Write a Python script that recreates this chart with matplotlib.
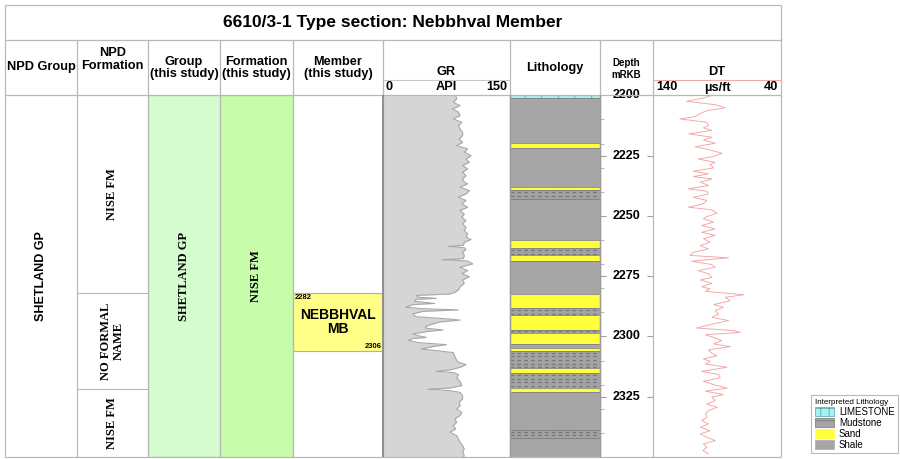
import matplotlib
matplotlib.use("Agg")
import matplotlib.pyplot as plt
from matplotlib.patches import Patch
import numpy as np

W, H = 900, 459
plt.rcParams['font.family'] = ['Liberation Sans', 'DejaVu Sans']
plt.rcParams['hatch.linewidth'] = 0.6
SERIF = ['Liberation Serif', 'DejaVu Serif']

# ---------------- data ----------------
TITLE = "6610/3-1 Type section: Nebbhval Member"
DEPTH_TOP, DEPTH_BASE = 2200, 2350
DEPTH_TICKS = [2200, 2225, 2250, 2275, 2300, 2325]

NPD_GROUP = ["SHETLAND GP"]
NPD_GROUP_TOP = [2200]
NPD_GROUP_BASE = [2350]

NPD_FM = ["NISE FM", "NO FORMAL\nNAME", "NISE FM"]
NPD_FM_TOP = [2200, 2282, 2322]
NPD_FM_BASE = [2282, 2322, 2350]

GROUP = ["SHETLAND GP"]
GROUP_TOP = [2200]
GROUP_BASE = [2350]

FORMATION = ["NISE FM"]
FORMATION_TOP = [2200]
FORMATION_BASE = [2350]

MEMBER = ["NEBBHVAL\nMB"]
MEMBER_TOP = [2282]
MEMBER_BASE = [2306]

LITH_NAME = ["LIMESTONE", "Shale", "Sand", "Shale", "Sand", "Mudstone", "Shale",
             "Sand", "Mudstone", "Sand", "Shale", "Sand", "Mudstone", "Sand",
             "Mudstone", "Sand", "Shale", "Sand", "Mudstone", "Sand", "Mudstone",
             "Sand", "Shale", "Mudstone", "Shale"]
LITH_TOP = [2200.0, 2201.2, 2219.6, 2221.7, 2238.2, 2239.4, 2243.0,
            2260.0, 2263.5, 2266.2, 2268.6, 2282.4, 2288.4, 2291.0,
            2297.2, 2298.4, 2303.1, 2305.0, 2306.1, 2313.2, 2315.3,
            2321.5, 2323.0, 2338.8, 2342.2]
LITH_BASE = [2201.2, 2219.6, 2221.7, 2238.2, 2239.4, 2243.0, 2260.0,
             2263.5, 2266.2, 2268.6, 2282.4, 2288.4, 2291.0, 2297.2,
             2298.4, 2303.1, 2305.0, 2306.1, 2313.2, 2315.3, 2321.5,
             2323.0, 2338.8, 2342.2, 2350.0]

GR_DEPTH = [2200.1, 2201.5, 2202.9, 2204.3, 2205.7, 2207.0, 2208.4, 2209.8, 2211.2,
            2212.6, 2213.9, 2215.3, 2216.7, 2218.1, 2219.5, 2220.9, 2222.2, 2223.6,
            2225.0, 2226.4, 2227.8, 2229.1, 2230.5, 2231.9, 2233.3, 2234.7, 2236.0,
            2236.7, 2238.1, 2239.5, 2240.9, 2242.3, 2243.6, 2245.0, 2246.4, 2247.8,
            2249.2, 2250.6, 2251.9, 2253.3, 2254.7, 2256.1, 2257.5, 2258.8, 2259.8,
            2260.9, 2262.2, 2262.7, 2263.2, 2263.9, 2265.1, 2266.4, 2267.7, 2268.2,
            2268.7, 2269.9, 2271.3, 2272.7, 2274.0, 2275.2, 2276.6, 2278.0, 2279.4,
            2280.7, 2281.7, 2282.4, 2283.0, 2283.8, 2284.2, 2284.6, 2285.4, 2286.3,
            2286.8, 2287.9, 2288.5, 2289.0, 2289.6, 2290.7, 2291.8, 2292.6, 2293.2,
            2294.0, 2294.8, 2295.9, 2296.6, 2297.3, 2297.9, 2299.0, 2299.8, 2300.4,
            2300.9, 2301.7, 2302.6, 2303.4, 2304.2, 2305.2, 2305.9, 2306.7, 2308.4,
            2309.8, 2310.7, 2311.7, 2312.8, 2313.9, 2314.5, 2315.0, 2315.8, 2317.2,
            2318.6, 2320.4, 2321.4, 2321.9, 2322.5, 2323.2, 2324.5, 2325.9, 2327.3,
            2328.7, 2330.1, 2331.5, 2332.8, 2334.2, 2335.6, 2337.0, 2338.4, 2339.7,
            2341.1, 2342.5, 2343.9, 2345.3, 2346.6, 2348.0, 2349.4, 2350.0]
GR_VALUE = [86, 87, 83, 91, 82, 89, 91, 83, 93,
            89, 91, 94, 94, 90, 94, 87, 100, 96,
            104, 98, 102, 94, 100, 94, 98, 94, 96,
            100, 91, 102, 98, 89, 98, 93, 100, 91,
            96, 93, 98, 94, 98, 96, 100, 98, 104,
            96, 95, 77, 96, 98, 94, 96, 95, 70,
            100, 106, 91, 100, 93, 102, 94, 96, 91,
            89, 85, 79, 39, 43, 63, 39, 37, 61,
            35, 27, 47, 89, 47, 35, 39, 71, 91,
            67, 59, 50, 51, 71, 53, 35, 43, 51,
            35, 30, 43, 75, 59, 45, 63, 83, 85,
            87, 89, 98, 91, 79, 63, 83, 89, 87,
            91, 93, 79, 53, 79, 91, 94, 94, 90,
            91, 87, 93, 91, 85, 87, 83, 86, 79,
            87, 89, 91, 94, 96, 94, 96, 95]

DT_DEPTH = [2200.1, 2201.1, 2202.5, 2203.9, 2205.2, 2206.4, 2207.5, 2208.8, 2209.8,
            2211.2, 2212.6, 2213.5, 2214.6, 2216.0, 2217.4, 2218.5, 2219.9, 2221.3,
            2222.7, 2224.0, 2225.4, 2226.4, 2227.8, 2228.7, 2230.1, 2231.5, 2232.6,
            2233.7, 2234.7, 2236.0, 2237.4, 2238.8, 2239.8, 2240.9, 2242.3, 2243.6,
            2245.0, 2246.4, 2247.5, 2248.9, 2250.3, 2251.2, 2252.6, 2254.0, 2255.4,
            2256.8, 2258.1, 2259.5, 2260.9, 2262.3, 2263.7, 2265.1, 2266.4, 2267.4,
            2268.8, 2270.2, 2271.3, 2272.7, 2274.0, 2275.5, 2276.6, 2278.0, 2279.4,
            2280.3, 2281.3, 2282.7, 2283.8, 2285.2, 2286.8, 2287.9, 2289.3, 2290.7,
            2292.1, 2293.4, 2295.1, 2296.5, 2297.6, 2298.3, 2299.3, 2300.4, 2301.7,
            2303.1, 2304.2, 2305.6, 2307.0, 2308.0, 2309.3, 2310.3, 2311.4, 2312.8,
            2314.5, 2315.8, 2317.2, 2318.6, 2320.0, 2321.4, 2322.7, 2324.1, 2325.2,
            2326.6, 2328.0, 2329.4, 2330.8, 2332.1, 2333.5, 2334.9, 2336.3, 2337.7,
            2339.1, 2340.4, 2341.8, 2343.2, 2344.6, 2346.0, 2347.3, 2348.7]
DT_VALUE = [94, 100.6, 113.8, 91.4, 83.6, 98, 103, 107, 119,
            98, 96.7, 100.6, 94, 112, 94, 100.6, 91.4, 107,
            95.4, 86.2, 92.7, 104.6, 91.4, 95.4, 92.7, 108.5, 96.7,
            108.5, 94, 103, 96.7, 112.4, 98, 96.7, 108.5, 98,
            100.6, 112.4, 94, 90, 98, 100.6, 92.7, 102, 91.4,
            102, 91.4, 100.6, 95.4, 103, 96.7, 108.5, 111, 81,
            109.8, 94, 91.4, 104.6, 96.7, 94, 103, 94, 102,
            95.4, 99, 69, 83.6, 79.6, 92.7, 85, 91.4, 88.8,
            94, 81, 95.4, 105.9, 77, 71.7, 99, 92.7, 86.2,
            92.7, 79.6, 96.7, 94, 90, 100.6, 95.4, 99, 82.3,
            102, 88.8, 87.5, 100.6, 92.7, 82.3, 99, 85, 94,
            91.4, 98, 90, 96.7, 99, 98, 102, 96.7, 103,
            95.4, 103, 98, 91.4, 100.6, 98, 101, 96.7]

GR_RANGE = (0, 150)
DT_RANGE = (140, 40)

# ---------------- styles ----------------
LITH_STYLE = {
    "LIMESTONE": dict(color="#a6f2f2", edgecolor="#5aa6a6", hatch="|"),
    "Mudstone": dict(color="#a3a3a3", edgecolor="#808080", hatch=None),
    "Sand": dict(color="#ffff3c", edgecolor="#909090", hatch=None),
    "Shale": dict(color="#a6a6a6", edgecolor="#808080", hatch=None),
}
LINE = "#b8b8b8"

Y0, Y1 = 95.3, 457.0   # pixel rows of depth top/base
X_EDGES = [5, 77, 148, 220, 293, 383, 510, 600, 653, 781]


def fbox(x0, y0, x1, y1):
    return [x0 / W, 1 - y1 / H, (x1 - x0) / W, (y1 - y0) / H]


fig = plt.figure(figsize=(W / 100, H / 100), dpi=100)
fig.patch.set_facecolor("white")

# ---- zone columns (depth-scaled, x in pixels) ----
axz = fig.add_axes(fbox(5, Y0, 383, Y1))
axz.set_xlim(5, 383)
axz.set_ylim(DEPTH_BASE, DEPTH_TOP)
axz.axis("off")
for t, b in zip(GROUP_TOP, GROUP_BASE):
    axz.barh(t, 72, height=b - t, left=148, align="edge", color="#d4fcce",
             edgecolor="#a6d6a0", linewidth=0.8)
for t, b in zip(FORMATION_TOP, FORMATION_BASE):
    axz.barh(t, 73, height=b - t, left=220, align="edge", color="#c6fcaa",
             edgecolor="#9cd090", linewidth=0.8)
for name, t, b in zip(MEMBER, MEMBER_TOP, MEMBER_BASE):
    axz.barh(t, 90, height=b - t, left=293, align="edge", color="#ffff88",
             edgecolor="#b0b0b0", linewidth=0.8)
    axz.text(338, (t + b) / 2, name, ha="center", va="center", fontsize=10,
             fontweight="bold", linespacing=1.05)
    axz.text(294.5, t + 0.3, str(t), ha="left", va="top", fontsize=5.5, fontweight="bold")
    axz.text(382, b - 0.3, str(b), ha="right", va="bottom", fontsize=5.5, fontweight="bold")
for name, t, b in zip(NPD_GROUP, NPD_GROUP_TOP, NPD_GROUP_BASE):
    axz.text(41, (t + b) / 2, name, rotation=90, ha="center", va="center",
             fontsize=9, fontweight="bold")
for name, t, b in zip(NPD_FM, NPD_FM_TOP, NPD_FM_BASE):
    axz.text(112.5, (t + b) / 2, name, rotation=90, ha="center", va="center",
             fontsize=9, fontweight="bold", family=SERIF, linespacing=1.0)
    if t > DEPTH_TOP:
        axz.hlines(t, 77, 148, color=LINE, linewidth=0.8)
for name, t, b in zip(GROUP, GROUP_TOP, GROUP_BASE):
    axz.text(184, (t + b) / 2, name, rotation=90, ha="center", va="center",
             fontsize=9, fontweight="bold", family=SERIF)
for name, t, b in zip(FORMATION, FORMATION_TOP, FORMATION_BASE):
    axz.text(256.5, (t + b) / 2, name, rotation=90, ha="center", va="center",
             fontsize=9, fontweight="bold", family=SERIF)

# ---- GR track ----
axg = fig.add_axes(fbox(383, Y0, 510, Y1))
axg.set_xlim(*GR_RANGE)
axg.set_ylim(DEPTH_BASE, DEPTH_TOP)
axg.axis("off")
axg.fill_betweenx(GR_DEPTH, 0, GR_VALUE, color="#d5d5d5", linewidth=0)
axg.plot(GR_VALUE, GR_DEPTH, color="#a8a8a8", linewidth=0.8)

# ---- Lithology track ----
axl = fig.add_axes(fbox(510, Y0, 600, Y1))
axl.set_xlim(0, 1)
axl.set_ylim(DEPTH_BASE, DEPTH_TOP)
axl.axis("off")
for name, t, b in zip(LITH_NAME, LITH_TOP, LITH_BASE):
    st = LITH_STYLE[name]
    axl.barh(t, 1, height=b - t, left=0, align="edge", color=st["color"],
             edgecolor=st["edgecolor"], linewidth=0.6, hatch=st["hatch"])
    if name == "Mudstone":
        rows = np.arange(t + 0.7, b - 0.3, 1.5)
        axl.hlines(rows, 0, 1, colors="#777777", linewidth=0.9,
                   linestyles=(0, (3, 2.5)))

# ---- Depth track ----
axd = fig.add_axes(fbox(600, Y0, 653, Y1))
axd.set_xlim(0, 1)
axd.set_ylim(DEPTH_BASE, DEPTH_TOP)
axd.patch.set_alpha(0)
for s in axd.spines.values():
    s.set_visible(False)
axd.set_xticks([])
axd.set_yticks(DEPTH_TICKS[1:])
axd.set_yticks(np.arange(2210, 2350, 10), minor=True)
axd.tick_params(axis="y", which="major", left=True, right=True, direction="in",
                length=4, color="#a0a0a0", labelleft=False, labelright=False)
axd.tick_params(axis="y", which="minor", left=True, right=False, direction="in",
                length=3, color="#b0b0b0")
for d in DEPTH_TICKS:
    axd.text(0.5, d, str(d), ha="center", va="center", fontsize=9,
             fontweight="bold", clip_on=False, zorder=20)

# ---- DT track ----
axt = fig.add_axes(fbox(653, Y0, 781, Y1))
axt.set_xlim(*DT_RANGE)
axt.set_ylim(DEPTH_BASE, DEPTH_TOP)
axt.axis("off")
axt.plot(DT_VALUE, DT_DEPTH, color="#f2a4a4", linewidth=0.65)

# ---- frame & header (pixel space, on top) ----
axb = fig.add_axes([0, 0, 1, 1], zorder=10)
axb.set_xlim(0, W)
axb.set_ylim(H, 0)
axb.axis("off")
axb.patch.set_alpha(0)
axb.hlines([5, 40, Y0, Y1], 5, 781, color=LINE, linewidth=0.9)
axb.vlines([5, 781], 5, Y1, color=LINE, linewidth=0.9)
axb.vlines(X_EDGES[1:-1], 40, Y1, color=LINE, linewidth=0.9)
axb.vlines([383], Y0, Y1, color="#8a8a8a", linewidth=1.3)
axb.vlines([510, 600], Y0, Y1, color="#999999", linewidth=1.0)
axb.hlines(80, 383, 510, color="#c8c8c8", linewidth=0.8)
axb.hlines(80, 653, 781, color="#f4a8a8", linewidth=0.8)

axb.text(393, 23, TITLE, ha="center", va="center", fontsize=12.5, fontweight="bold")
hdr = dict(ha="center", va="center", fontsize=9.2, fontweight="bold", linespacing=1.05)
axb.text(41, 67, "NPD Group", **hdr)
axb.text(112.5, 59.5, "NPD\nFormation", **hdr)
axb.text(184, 68, "Group\n(this study)", **hdr)
axb.text(256.5, 68, "Formation\n(this study)", **hdr)
axb.text(338, 68, "Member\n(this study)", **hdr)
axb.text(446, 72, "GR", **hdr)
axb.text(446, 87.5, "API", **hdr)
axb.text(386, 87.5, "0", ha="left", va="center", fontsize=9.2, fontweight="bold")
axb.text(507, 87.5, "150", ha="right", va="center", fontsize=9.2, fontweight="bold")
axb.text(555, 68, "Lithology", **hdr)
axb.text(626.5, 68.5, "Depth\nmRKB", ha="center", va="center", fontsize=7,
         fontweight="bold", linespacing=1.25)
axb.text(717, 72, "DT", **hdr)
axb.text(717, 87.5, "µs/ft", **hdr)
axb.text(656, 87.5, "140", ha="left", va="center", fontsize=9.2, fontweight="bold")
axb.text(778, 87.5, "40", ha="right", va="center", fontsize=9.2, fontweight="bold")

# ---- legend ----
handles = [
    Patch(facecolor="#a6f2f2", edgecolor="#5aa6a6", hatch="|+", linewidth=0.5, label="LIMESTONE"),
    Patch(facecolor="#a6a6a6", edgecolor="#777777", hatch="--", linewidth=0.5, label="Mudstone"),
    Patch(facecolor="#ffff3c", edgecolor="#ffff3c", linewidth=0.5, label="Sand"),
    Patch(facecolor="#a6a6a6", edgecolor="#a6a6a6", linewidth=0.5, label="Shale"),
]
leg = fig.legend(handles=handles, loc="lower right",
                 bbox_to_anchor=(898 / W, 1 - 453 / H), title="Interpreted Lithology",
                 fontsize=7, title_fontsize=5.8, frameon=True, fancybox=False,
                 edgecolor="#a8a8a8", handlelength=2.0, handleheight=1.0,
                 labelspacing=0.1, borderpad=0.35, handletextpad=0.5,
                 borderaxespad=0, alignment="left")
leg.get_frame().set_linewidth(0.8)

fig.savefig("out.png", dpi=100, facecolor="white")
